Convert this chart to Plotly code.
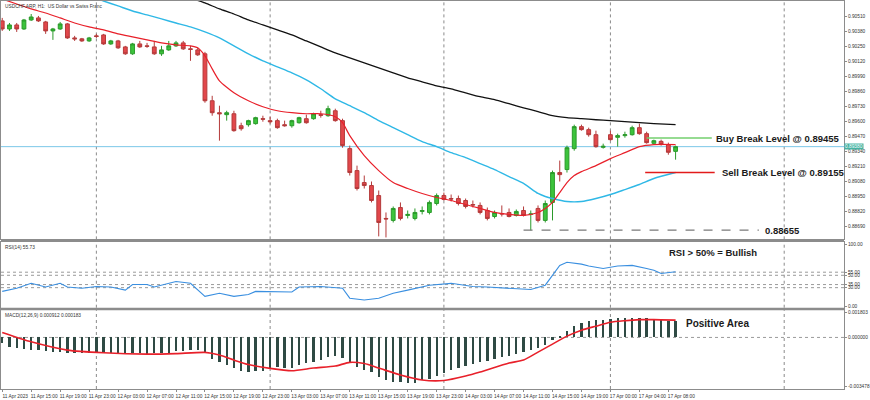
import plotly.graph_objects as go

# ---------------- data ----------------
tick_labels = ["11 Apr 2023", "11 Apr 15:00", "11 Apr 19:00", "11 Apr 23:00", "12 Apr 03:00",
               "12 Apr 07:00", "12 Apr 11:00", "12 Apr 15:00", "12 Apr 19:00", "12 Apr 23:00",
               "13 Apr 03:00", "13 Apr 07:00", "13 Apr 11:00", "13 Apr 15:00", "13 Apr 19:00",
               "13 Apr 23:00", "14 Apr 03:00", "14 Apr 07:00", "14 Apr 11:00", "14 Apr 15:00",
               "14 Apr 19:00", "17 Apr 00:00", "17 Apr 04:00", "17 Apr 08:00"]
tick_bars = list(range(0, 96, 4))
day_start_bars = [13, 37, 61, 84, 108]

ohlc = [
    (0.90473, 0.90499, 0.90386, 0.90403), (0.90403, 0.90455, 0.90386, 0.90438),
    (0.90438, 0.90455, 0.90377, 0.90403), (0.90403, 0.90490, 0.90395, 0.90481),
    (0.90481, 0.90533, 0.90473, 0.90507), (0.90499, 0.90516, 0.90464, 0.90473),
    (0.90464, 0.90473, 0.90360, 0.90386), (0.90386, 0.90412, 0.90308, 0.90403),
    (0.90403, 0.90464, 0.90395, 0.90447), (0.90447, 0.90455, 0.90317, 0.90325),
    (0.90325, 0.90343, 0.90299, 0.90317), (0.90317, 0.90325, 0.90291, 0.90299),
    (0.90299, 0.90334, 0.90291, 0.90325), (0.90343, 0.90360, 0.90325, 0.90338),
    (0.90351, 0.90360, 0.90265, 0.90273), (0.90273, 0.90308, 0.90265, 0.90299),
    (0.90299, 0.90308, 0.90230, 0.90239), (0.90247, 0.90256, 0.90178, 0.90187),
    (0.90187, 0.90282, 0.90178, 0.90273), (0.90273, 0.90299, 0.90239, 0.90247),
    (0.90256, 0.90282, 0.90239, 0.90252), (0.90247, 0.90299, 0.90178, 0.90187),
    (0.90187, 0.90256, 0.90169, 0.90221), (0.90221, 0.90299, 0.90213, 0.90256),
    (0.90256, 0.90299, 0.90247, 0.90282), (0.90282, 0.90299, 0.90221, 0.90230),
    (0.90230, 0.90256, 0.90126, 0.90226), (0.90221, 0.90239, 0.90169, 0.90178),
    (0.90187, 0.90204, 0.89762, 0.89779), (0.89779, 0.89822, 0.89649, 0.89675),
    (0.89675, 0.89736, 0.89432, 0.89666), (0.89658, 0.89692, 0.89606, 0.89675),
    (0.89666, 0.89692, 0.89510, 0.89519), (0.89562, 0.89588, 0.89519, 0.89536),
    (0.89571, 0.89614, 0.89554, 0.89606), (0.89580, 0.89640, 0.89571, 0.89632),
    (0.89623, 0.89649, 0.89597, 0.89619), (0.89606, 0.89640, 0.89580, 0.89597),
    (0.89606, 0.89623, 0.89536, 0.89545), (0.89571, 0.89606, 0.89554, 0.89562),
    (0.89562, 0.89614, 0.89545, 0.89606), (0.89588, 0.89640, 0.89580, 0.89632),
    (0.89623, 0.89658, 0.89580, 0.89588), (0.89623, 0.89675, 0.89614, 0.89666),
    (0.89658, 0.89692, 0.89632, 0.89653), (0.89649, 0.89736, 0.89640, 0.89710),
    (0.89692, 0.89710, 0.89597, 0.89606), (0.89606, 0.89623, 0.89371, 0.89389),
    (0.89363, 0.89389, 0.89129, 0.89155), (0.89172, 0.89215, 0.88999, 0.89016),
    (0.89068, 0.89129, 0.89016, 0.89042), (0.89042, 0.89077, 0.88895, 0.88912),
    (0.88955, 0.88999, 0.88600, 0.88721), (0.88756, 0.88808, 0.88591, 0.88752),
    (0.88739, 0.88860, 0.88721, 0.88843), (0.88851, 0.88895, 0.88739, 0.88756),
    (0.88782, 0.88825, 0.88756, 0.88791), (0.88756, 0.88843, 0.88739, 0.88808),
    (0.88817, 0.88860, 0.88791, 0.88825), (0.88808, 0.88912, 0.88791, 0.88895),
    (0.88886, 0.88973, 0.88869, 0.88955), (0.88955, 0.88981, 0.88912, 0.88921),
    (0.88929, 0.88964, 0.88903, 0.88925), (0.88929, 0.88955, 0.88869, 0.88886),
    (0.88912, 0.88929, 0.88843, 0.88860), (0.88877, 0.88912, 0.88851, 0.88873),
    (0.88869, 0.88895, 0.88791, 0.88808), (0.88825, 0.88851, 0.88739, 0.88756),
    (0.88773, 0.88825, 0.88756, 0.88808), (0.88799, 0.88869, 0.88773, 0.88795),
    (0.88808, 0.88843, 0.88765, 0.88773), (0.88782, 0.88834, 0.88773, 0.88817),
    (0.88825, 0.88860, 0.88773, 0.88782), (0.88791, 0.88825, 0.88652, 0.88795),
    (0.88843, 0.88869, 0.88721, 0.88739), (0.88739, 0.88912, 0.88721, 0.88886),
    (0.88895, 0.89172, 0.88739, 0.89155), (0.89155, 0.89259, 0.89077, 0.89137),
    (0.89181, 0.89389, 0.89155, 0.89371), (0.89363, 0.89571, 0.89345, 0.89554),
    (0.89554, 0.89571, 0.89519, 0.89528), (0.89528, 0.89545, 0.89467, 0.89484),
    (0.89484, 0.89519, 0.89371, 0.89380), (0.89374, 0.89406, 0.89363, 0.89383),
    (0.89484, 0.89519, 0.89432, 0.89441), (0.89461, 0.89493, 0.89380, 0.89476),
    (0.89476, 0.89510, 0.89458, 0.89484), (0.89484, 0.89562, 0.89476, 0.89545),
    (0.89545, 0.89580, 0.89484, 0.89493), (0.89493, 0.89510, 0.89406, 0.89415),
    (0.89409, 0.89441, 0.89398, 0.89432), (0.89426, 0.89441, 0.89389, 0.89398),
    (0.89398, 0.89415, 0.89310, 0.89331), (0.89339, 0.89389, 0.89267, 0.89380),
]
open_ = [r[0] for r in ohlc]
high = [r[1] for r in ohlc]
low = [r[2] for r in ohlc]
close = [r[3] for r in ohlc]
bars = list(range(len(ohlc)))

ma_red_bars = [0, 2, 4, 6, 8, 10, 12, 14, 16, 18, 20, 22, 24, 26, 27, 28, 29, 30, 32, 34, 36, 38, 40, 42,
               44, 46, 47, 48, 50, 52, 54, 56, 58, 60, 62, 64, 66, 68, 70, 72, 74, 75, 76, 77, 78, 79,
               80, 82, 84, 86, 88, 90, 93]
ma_red = [0.90663, 0.90620, 0.90577, 0.90542, 0.90499, 0.90455, 0.90421, 0.90395, 0.90360, 0.90334,
          0.90308, 0.90282, 0.90265, 0.90256, 0.90239, 0.90169, 0.90056, 0.89952, 0.89848, 0.89779,
          0.89727, 0.89692, 0.89675, 0.89666, 0.89666, 0.89640, 0.89588, 0.89476, 0.89302, 0.89172,
          0.89068, 0.89016, 0.88973, 0.88938, 0.88912, 0.88877, 0.88843, 0.88808, 0.88791, 0.88782,
          0.88808, 0.88843, 0.88895, 0.88981, 0.89068, 0.89129, 0.89163, 0.89215, 0.89276, 0.89328,
          0.89380, 0.89398, 0.89398]

ma_blue_bars = [12, 14, 16, 18, 20, 22, 24, 26, 28, 30, 32, 34, 36, 38, 40, 42, 44, 46, 48, 50, 52, 54,
                56, 58, 60, 62, 64, 66, 68, 70, 72, 74, 75, 76, 78, 80, 82, 84, 86, 88, 90, 93]
ma_blue = [0.90689, 0.90646, 0.90603, 0.90559, 0.90525, 0.90490, 0.90455, 0.90421, 0.90377, 0.90325,
           0.90256, 0.90187, 0.90126, 0.90074, 0.90022, 0.89961, 0.89883, 0.89796, 0.89736, 0.89675,
           0.89606, 0.89545, 0.89484, 0.89424, 0.89380, 0.89328, 0.89285, 0.89233, 0.89181, 0.89120,
           0.89060, 0.88973, 0.88947, 0.88929, 0.88903, 0.88903, 0.88929, 0.88964, 0.89007, 0.89051,
           0.89103, 0.89155]

ma_black_bars = [26, 28, 30, 32, 34, 36, 38, 40, 42, 44, 46, 48, 50, 52, 54, 56, 58, 60, 62, 64, 66, 68,
                 70, 72, 74, 76, 78, 80, 82, 84, 86, 88, 90, 93]
ma_black = [0.90672, 0.90629, 0.90577, 0.90533, 0.90481, 0.90438, 0.90395, 0.90351, 0.90299, 0.90247,
            0.90195, 0.90152, 0.90108, 0.90065, 0.90022, 0.89978, 0.89944, 0.89909, 0.89883, 0.89848,
            0.89814, 0.89788, 0.89753, 0.89718, 0.89684, 0.89649, 0.89632, 0.89623, 0.89614, 0.89606,
            0.89597, 0.89588, 0.89580, 0.89571]

price_ticks = [0.90510, 0.90380, 0.90250, 0.90120, 0.89990, 0.89860, 0.89730, 0.89600, 0.89470,
               0.89340, 0.89210, 0.89080, 0.88950, 0.88820, 0.88690]
last_price = 0.89380
buy_level = 0.89455
sell_level = 0.89155
support_level = 0.88655

rsi_bars = [0, 2, 4, 6, 8, 9, 11, 13, 15, 17, 18, 20, 21, 24, 26, 28, 30, 32, 34, 35, 40, 41, 44, 47,
            48, 50, 52, 54, 56, 59, 62, 65, 67, 70, 73, 75, 76, 77, 78, 80, 81, 83, 85, 87, 89, 90,
            91, 92, 93]
rsi = [24, 29, 37, 31, 37, 31, 29, 32, 31, 26, 35, 35, 31, 40, 37, 16, 21, 16, 19, 24, 23, 31, 32, 29,
       13, 10, 13, 21, 26, 34, 37, 32, 31, 29, 27, 34, 50, 66, 71, 68, 65, 61, 65, 66, 61, 58, 53, 54,
       55.73]
rsi_levels = [55, 50, 35, 30]
rsi_ticks = [100, 55, 50, 35, 30, 0]

macd_hist = [-0.000383, -0.000667, -0.000781, -0.000852, -0.000902, -0.000902, -0.000951, -0.001022,
             -0.001022, -0.001093, -0.001136, -0.001093, -0.001136, -0.001136, -0.001136, -0.001136,
             -0.001136, -0.001136, -0.001136, -0.001136, -0.001186, -0.001093, -0.001093, -0.001093,
             -0.000951, -0.000951, -0.000902, -0.000902, -0.001093, -0.001562, -0.001754, -0.001967,
             -0.002201, -0.002371, -0.002442, -0.002371, -0.002371, -0.002272, -0.002087, -0.002158,
             -0.002201, -0.001967, -0.001846, -0.001732, -0.001612, -0.001420, -0.001328, -0.001491,
             -0.001803, -0.002087, -0.002322, -0.002442, -0.002797, -0.003032, -0.003152, -0.003152,
             -0.003223, -0.003223, -0.003032, -0.002982, -0.002748, -0.002513, -0.002322, -0.002180,
             -0.002038, -0.001896, -0.001754, -0.001683, -0.001541, -0.001399, -0.001328, -0.001186,
             -0.001044, -0.000902, -0.000760, -0.000547, -0.000192, 0.000092, 0.000447, 0.000802,
             0.001015, 0.001157, 0.001228, 0.001228, 0.001299, 0.001335, 0.001370, 0.001370,
             0.001370, 0.001335, 0.001299, 0.001264, 0.001157, 0.001157]
signal_bars = [0, 4, 9, 14, 20, 24, 28, 30, 32, 34, 37, 40, 43, 46, 48, 50, 52, 55, 58, 61, 64, 66, 70,
               72, 74, 76, 78, 80, 82, 84, 86, 88, 90, 93]
macd_signal = [0.000355, -0.000312, -0.000902, -0.001093, -0.001186, -0.001150, -0.001065, -0.001257,
               -0.001612, -0.001931, -0.002201, -0.002371, -0.002180, -0.002038, -0.001775, -0.001860,
               -0.002180, -0.002677, -0.003032, -0.003067, -0.002748, -0.002464, -0.001825, -0.001612,
               -0.001044, -0.000476, 0.000092, 0.000518, 0.000802, 0.001086, 0.001193, 0.001264,
               0.001264, 0.001228]
macd_ticks = [0.001803, 0.0, -0.003478]
macd_tick_text = ["0.001803", "0.000000", "-0.003478"]

# ---------------- figure ----------------
FONT = "Liberation Sans, Arial, sans-serif"
GRID = "#8c8c8c"
fig = go.Figure()

fig.add_trace(go.Candlestick(
    x=bars, open=open_, high=high, low=low, close=close, xaxis="x", yaxis="y",
    increasing=dict(fillcolor="#3cc43c", line=dict(color="#2b9a2b", width=1)),
    decreasing=dict(fillcolor="#e2474b", line=dict(color="#b43a3a", width=1)),
    whiskerwidth=0, showlegend=False, hoverinfo="skip"))
fig.add_trace(go.Scatter(x=ma_black_bars, y=ma_black, mode="lines", xaxis="x", yaxis="y",
                         line=dict(color="#111111", width=1.3, shape="spline", smoothing=0.6),
                         showlegend=False, hoverinfo="skip"))
fig.add_trace(go.Scatter(x=ma_blue_bars, y=ma_blue, mode="lines", xaxis="x", yaxis="y",
                         line=dict(color="#2fb8e6", width=1.4, shape="spline", smoothing=0.6),
                         showlegend=False, hoverinfo="skip"))
fig.add_trace(go.Scatter(x=ma_red_bars, y=ma_red, mode="lines", xaxis="x", yaxis="y",
                         line=dict(color="#e8202a", width=1.2, shape="spline", smoothing=0.6),
                         showlegend=False, hoverinfo="skip"))

# level lines
fig.add_trace(go.Scatter(x=[89, 98], y=[buy_level, buy_level], mode="lines", xaxis="x", yaxis="y",
                         line=dict(color="#73cf6e", width=1.6), showlegend=False, hoverinfo="skip"))
fig.add_trace(go.Scatter(x=[88.8, 98.4], y=[sell_level, sell_level], mode="lines", xaxis="x", yaxis="y",
                         line=dict(color="#e21b1b", width=1.6), showlegend=False, hoverinfo="skip"))
fig.add_trace(go.Scatter(x=[72, 104.5], y=[support_level, support_level], mode="lines", xaxis="x", yaxis="y",
                         line=dict(color="#7a7a7a", width=1.2, dash="dash"), showlegend=False, hoverinfo="skip"))

# RSI
fig.add_trace(go.Scatter(x=rsi_bars, y=rsi, mode="lines", xaxis="x2", yaxis="y2",
                         line=dict(color="#3a8fe0", width=1.1), showlegend=False, hoverinfo="skip"))
# MACD
fig.add_trace(go.Bar(x=bars, y=macd_hist, xaxis="x3", yaxis="y3", width=0.32,
                     marker=dict(color="#2f4a44", line=dict(width=0)), showlegend=False, hoverinfo="skip"))
fig.add_trace(go.Scatter(x=signal_bars, y=macd_signal, mode="lines", xaxis="x3", yaxis="y3",
                         line=dict(color="#e8202a", width=1.6, shape="spline", smoothing=0.6),
                         showlegend=False, hoverinfo="skip"))

H_PLOT = 389.0
def dom(top_px, bot_px):
    return [(H_PLOT - bot_px) / H_PLOT, (H_PLOT - top_px) / H_PLOT]

xr = [-0.17, 116.26]
axis_font = dict(family=FONT, size=4.8, color="#333333")
common_x = dict(range=xr, showgrid=False, zeroline=False, showline=True, mirror=True,
                linecolor=GRID, linewidth=1, fixedrange=True)
common_y = dict(side="right", showgrid=False, zeroline=False, showline=True, mirror=True,
                linecolor=GRID, linewidth=1, ticks="outside", ticklen=2, tickcolor=GRID,
                tickfont=axis_font, fixedrange=True)

fig.update_layout(
    width=870, height=400, margin=dict(l=0, r=24, t=0, b=11),
    paper_bgcolor="white", plot_bgcolor="white", bargap=0, boxgap=0.25,
    font=dict(family=FONT),
    xaxis=dict(**common_x, domain=[0, 1], anchor="y", showticklabels=False, rangeslider=dict(visible=False)),
    xaxis2=dict(**common_x, domain=[0, 1], anchor="y2", showticklabels=False, matches="x"),
    xaxis3=dict(**common_x, domain=[0, 1], anchor="y3", matches="x", tickmode="array",
                tickvals=tick_bars, ticktext=tick_labels, ticks="outside", ticklen=2, tickcolor=GRID,
                tickfont=axis_font, tickangle=0, ticklabelshift=13, ticklabelstandoff=0),
    yaxis=dict(**common_y, domain=dom(0, 239), range=[0.88574, 0.90646], tickmode="array",
               tickvals=price_ticks, ticktext=[f"{v:.5f}" for v in price_ticks]),
    yaxis2=dict(**common_y, domain=dom(241.5, 307.5), range=[-2.4, 104], tickmode="array",
                tickvals=rsi_ticks, ticktext=[f"{v:.2f}" for v in rsi_ticks]),
    yaxis3=dict(**common_y, domain=dom(310, 389), range=[-0.003671, 0.001938], tickmode="array",
                tickvals=macd_ticks, ticktext=macd_tick_text),
)

shapes = []
# separator bars
for t, b in [(239, 241.5), (307.5, 310)]:
    shapes.append(dict(type="rect", xref="paper", yref="paper", x0=0, x1=1,
                       y0=(H_PLOT - b) / H_PLOT, y1=(H_PLOT - t) / H_PLOT,
                       fillcolor="#8c8c8c", line=dict(width=0), layer="above"))
# day separators
for d in day_start_bars:
    for yr in ["y domain", "y2 domain", "y3 domain"]:
        shapes.append(dict(type="line", xref="x", yref=yr, x0=d, x1=d, y0=0, y1=1,
                           line=dict(color="#8a8a8a", width=1, dash="dot"), layer="below"))
# rsi levels
for lv in rsi_levels:
    shapes.append(dict(type="line", xref="x2 domain", yref="y2", x0=0, x1=1, y0=lv, y1=lv,
                       line=dict(color="#9a9a9a", width=1, dash="dot"), layer="below"))
# macd zero level
shapes.append(dict(type="line", xref="x3 domain", yref="y3", x0=0, x1=1, y0=0, y1=0,
                   line=dict(color="#9a9a9a", width=1, dash="dot"), layer="below"))
# last price line
shapes.append(dict(type="line", xref="x domain", yref="y", x0=0, x1=1, y0=last_price, y1=last_price,
                   line=dict(color="#7cc8e8", width=1), layer="below"))
fig.update_layout(shapes=shapes)

bold = dict(family=FONT, size=9.5, color="#1a1a1a")
small = dict(family=FONT, size=4.8, color="#333333")
ann = [
    dict(x=98.3, y=buy_level, xref="x", yref="y", text="<b>Buy Break Level @ 0.89455</b>",
         showarrow=False, xanchor="left", yanchor="middle", font=bold),
    dict(x=99.2, y=sell_level, xref="x", yref="y", text="<b>Sell Break Level @ 0.89155</b>",
         showarrow=False, xanchor="left", yanchor="middle", font=bold),
    dict(x=105.1, y=support_level, xref="x", yref="y", text="<b>0.88655</b>",
         showarrow=False, xanchor="left", yanchor="middle", font=bold),
    dict(x=91.8, y=87, xref="x2", yref="y2", text="<b>RSI > 50% = Bullish</b>",
         showarrow=False, xanchor="left", yanchor="middle", font=bold),
    dict(x=94.2, y=0.00102, xref="x3", yref="y3", text="<b>Positive Area</b>",
         showarrow=False, xanchor="left", yanchor="middle", font=dict(family=FONT, size=10, color="#1a1a1a")),
    dict(x=0.002, y=0.997, xref="paper", yref="y domain", text="USDCHF.ARP, H1:  US Dollar vs Swiss Franc",
         showarrow=False, xanchor="left", yanchor="top", font=small),
    dict(x=0.002, y=0.985, xref="paper", yref="y2 domain", text="RSI(14) 55.73",
         showarrow=False, xanchor="left", yanchor="top", font=small),
    dict(x=0.002, y=0.985, xref="paper", yref="y3 domain", text="MACD(12,26,9) 0.000912 0.000183",
         showarrow=False, xanchor="left", yanchor="top", font=small),
    dict(x=1.0, y=last_price, xref="paper", yref="y", text="0.89380", showarrow=False,
         xanchor="left", yanchor="middle", bgcolor="#45b3a3", borderpad=0,
         font=dict(family=FONT, size=4.8, color="white")),
]
fig.update_layout(annotations=ann)

fig.write_html("out.html")
